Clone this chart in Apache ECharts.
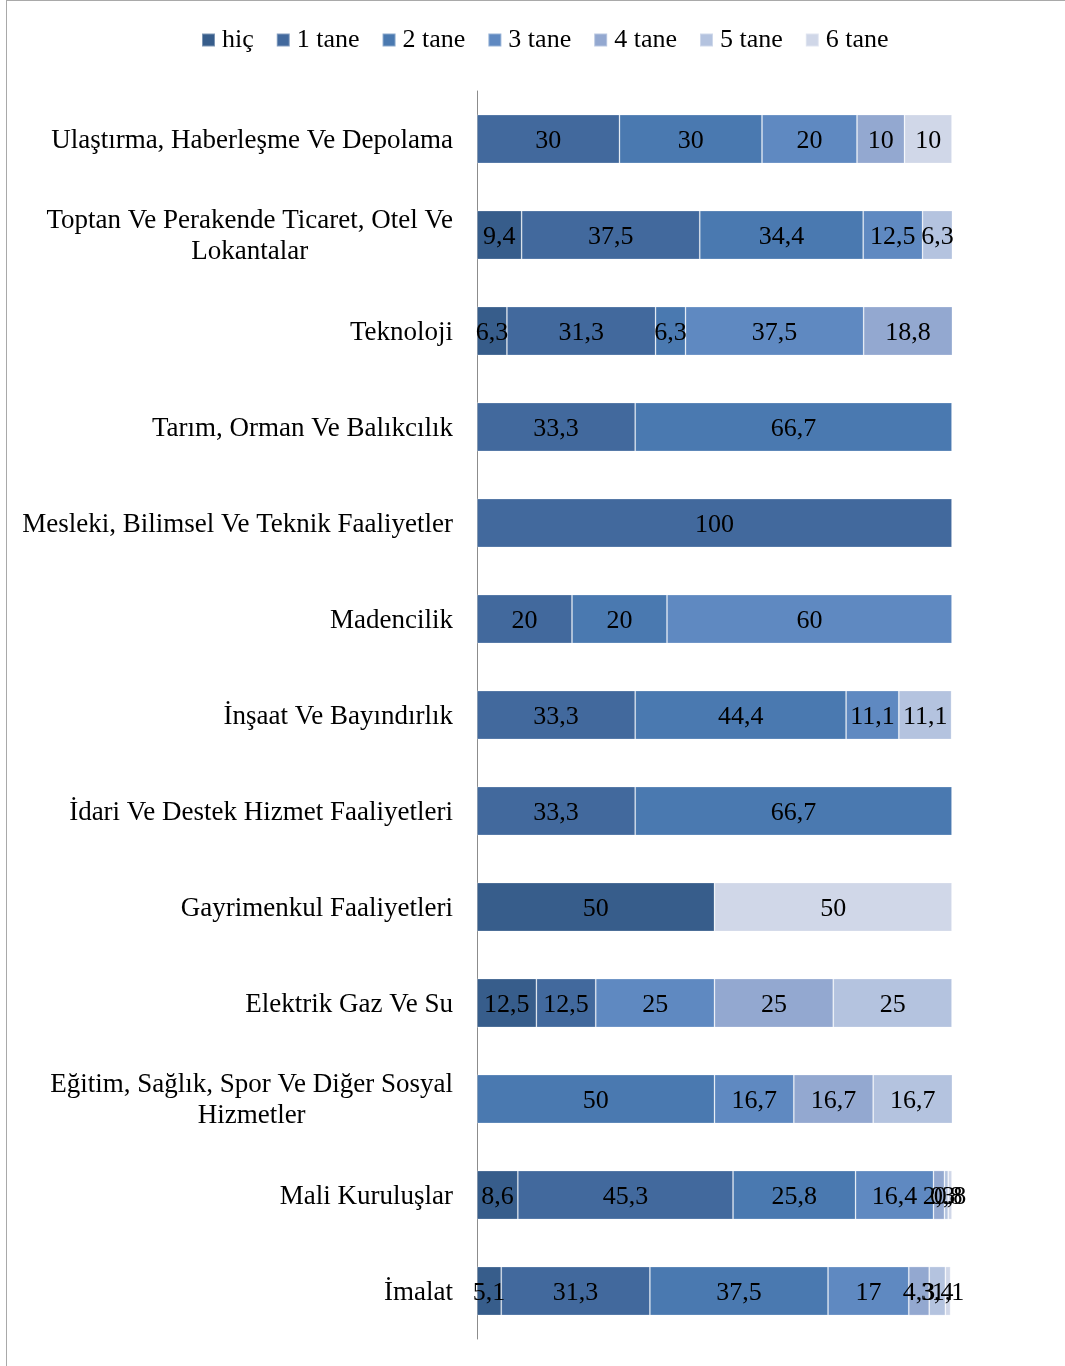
<!DOCTYPE html>
<html>
<head>
<meta charset="utf-8">
<script src="https://cdn.jsdelivr.net/npm/echarts@6/dist/echarts.min.js"></script>
<style>
  html, body { margin: 0; padding: 0; background: #fff; }
  #frame { position: absolute; left: 6px; top: 0; width: 1080px; height: 1380px; border-top: 1px solid #a9a9a9; border-left: 1px solid #a9a9a9; }
  #chart { position: absolute; left: 0; top: 0; width: 1065px; height: 1366px; }
</style>
</head>
<body>
<div id="frame"></div>
<div id="chart"></div>
<script>
// Sectors (top to bottom)
const sectors = [
  'Ulaştırma, Haberleşme Ve Depolama',
  'Toptan Ve Perakende Ticaret, Otel Ve\nLokantalar',
  'Teknoloji',
  'Tarım, Orman Ve Balıkcılık',
  'Mesleki, Bilimsel Ve Teknik Faaliyetler',
  'Madencilik',
  'İnşaat Ve Bayındırlık',
  'İdari Ve Destek Hizmet Faaliyetleri',
  'Gayrimenkul Faaliyetleri',
  'Elektrik Gaz Ve Su',
  'Eğitim, Sağlık, Spor Ve Diğer Sosyal\nHizmetler',
  'Mali Kuruluşlar',
  'İmalat'
];

const seriesNames = ['hiç', '1 tane', '2 tane', '3 tane', '4 tane', '5 tane', '6 tane'];

// Percentage shares per sector
const hic    = [null, 9.4, 6.3, null, null, null, null, null, 50, 12.5, null, 8.6, 5.1];
const tane1  = [30, 37.5, 31.3, 33.3, 100, 20, 33.3, 33.3, null, 12.5, null, 45.3, 31.3];
const tane2  = [30, 34.4, 6.3, 66.7, null, 20, 44.4, 66.7, null, null, 50, 25.8, 37.5];
const tane3  = [20, 12.5, 37.5, null, null, 60, 11.1, null, null, 25, 16.7, 16.4, 17];
const tane4  = [10, null, 18.8, null, null, null, null, null, null, 25, 16.7, 2.3, 4.3];
const tane5  = [null, 6.3, null, null, null, null, 11.1, null, null, 25, 16.7, 0.8, 3.4];
const tane6  = [10, null, null, null, null, null, null, null, 50, null, null, 0.8, 1.1];

const seriesValues = [hic, tane1, tane2, tane3, tane4, tane5, tane6];
const palette = ['#375d8b', '#42699d', '#4a79b0', '#5f89c1', '#93a8d0', '#b4c3df', '#d0d7e8'];

const FONT = '"Liberation Serif", "Times New Roman", serif';

const chart = echarts.init(document.getElementById('chart'));

chart.setOption({
  animation: false,
  textStyle: { fontFamily: FONT },
  color: palette,
  legend: {
    top: 22,
    left: 196,
    itemWidth: 13,
    itemHeight: 13,
    itemGap: 22,
    icon: 'rect',
    textStyle: { fontFamily: FONT, fontSize: 26, color: '#000', padding: [0, 0, 0, 2] },
    data: seriesNames
  },
  grid: { left: 477, right: 113, top: 91, bottom: 27 },
  xAxis: {
    type: 'value',
    min: 0,
    max: 100,
    show: false
  },
  yAxis: {
    type: 'category',
    inverse: true,
    data: sectors,
    axisLine: { show: true, lineStyle: { color: '#8c8c8c', width: 1 } },
    axisTick: { show: false },
    axisLabel: {
      margin: 24,
      color: '#000',
      fontFamily: FONT,
      fontSize: 27,
      lineHeight: 31,
      formatter: function (v) {
        return v.split('\n').map(function (line) { return '{c|' + line + '}'; }).join('\n');
      },
      rich: {
        c: { align: 'center', fontFamily: FONT, fontSize: 27, lineHeight: 31, color: '#000', padding: [3, 0, 0, 0] }
      }
    }
  },
  series: seriesValues.map(function (vals, i) {
    return {
      name: seriesNames[i],
      type: 'bar',
      stack: 'total',
      barWidth: '51%',
      data: vals,
      itemStyle: { borderColor: 'rgba(255,255,255,0.35)', borderWidth: 0.8 },
      label: {
        show: true,
        position: 'inside',
        offset: [0, 2],
        color: '#000',
        fontFamily: FONT,
        fontSize: 26,
        formatter: function (p) {
          return p.value == null ? '' : String(p.value).replace('.', ',');
        }
      }
    };
  })
});
</script>
</body>
</html>
